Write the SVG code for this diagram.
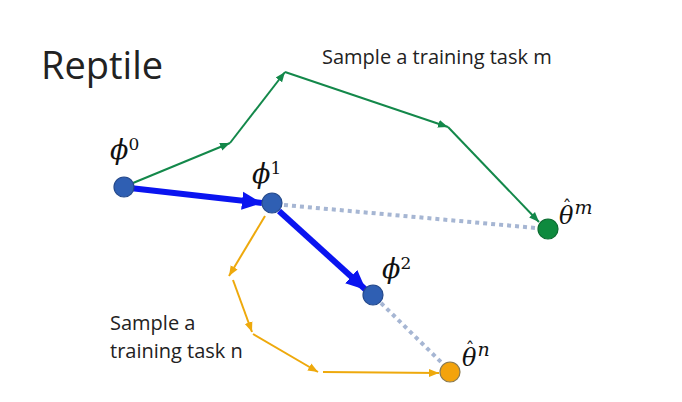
<svg xmlns="http://www.w3.org/2000/svg" width="682" height="402" viewBox="0 0 682 402">
<style>
.lbl{font-family:"Open Sans","Liberation Sans",sans-serif;fill:#222}
.math{font-family:"DejaVu Serif","Liberation Serif",serif;font-style:italic;fill:#111}
.g{stroke:#13884a;stroke-width:2;fill:none}
.o{stroke:#eea90c;stroke-width:2;fill:none}
.b{stroke:#0a14f0;stroke-width:6;fill:none}
.d{stroke:#a6b6d3;stroke-width:4;stroke-dasharray:4 4;fill:none}
.node{stroke-width:1.2}
</style>
<defs>
<marker id="ag" markerUnits="userSpaceOnUse" markerWidth="12" markerHeight="10" refX="10" refY="5" orient="auto"><path d="M0,1 L10,5 L0,9 Z" fill="#13884a"/></marker>
<marker id="ao" markerUnits="userSpaceOnUse" markerWidth="12" markerHeight="10" refX="10" refY="5" orient="auto"><path d="M0,1 L10,5 L0,9 Z" fill="#eea90c"/></marker>
<marker id="ab" markerUnits="userSpaceOnUse" markerWidth="22" markerHeight="20" refX="20" refY="10" orient="auto"><path d="M0,1 L20,10 L0,19 Z" fill="#0a14f0"/></marker>
</defs>
<rect width="682" height="402" fill="#fff"/>
<text class="lbl" x="41" y="79" font-size="38">Reptile</text>
<text class="lbl" x="322" y="64" font-size="20">Sample a training task m</text>
<text class="lbl" x="110" y="330" font-size="20">Sample a</text>
<text class="lbl" x="110" y="358" font-size="20">training task n</text>
<g id="connectors">
<line class="g" x1="133" y1="183" x2="230" y2="143" marker-end="url(#ag)"/>
<line class="g" x1="230" y1="143" x2="285" y2="72" marker-end="url(#ag)"/>
<line class="g" x1="285" y1="72" x2="448" y2="127" marker-end="url(#ag)"/>
<line class="g" x1="448" y1="127" x2="539" y2="222" marker-end="url(#ag)"/>
<line class="o" x1="265" y1="216" x2="229" y2="276" marker-end="url(#ao)"/>
<line class="o" x1="233" y1="280" x2="252" y2="332" marker-end="url(#ao)"/>
<line class="o" x1="253" y1="334" x2="318" y2="372" marker-end="url(#ao)"/>
<line class="o" x1="323" y1="372" x2="439" y2="373" marker-end="url(#ao)"/>
<line class="d" x1="284" y1="205" x2="536" y2="228"/>
<line class="d" x1="381" y1="303" x2="443" y2="364"/>
<line class="b" x1="130" y1="188" x2="262" y2="203" marker-end="url(#ab)"/>
<line class="b" x1="279" y1="211" x2="366" y2="290" marker-end="url(#ab)"/>
</g>
<g id="phi0"><circle class="node" cx="124" cy="187" r="10" fill="#2f5fb3" stroke="#24498c"/><text class="math" x="110" y="159" font-size="27">ϕ<tspan font-style="normal" font-size="17" dy="-9">0</tspan></text></g>
<g id="phi1"><circle class="node" cx="272" cy="203" r="10" fill="#2f5fb3" stroke="#24498c"/><text class="math" x="252" y="183" font-size="27">ϕ<tspan font-style="normal" font-size="17" dy="-9">1</tspan></text></g>
<g id="phi2"><circle class="node" cx="373" cy="295" r="10" fill="#2f5fb3" stroke="#24498c"/><text class="math" x="382" y="278" font-size="27">ϕ<tspan font-style="normal" font-size="17" dy="-9">2</tspan></text></g>
<g id="thetam"><circle class="node" cx="548" cy="229" r="10" fill="#0e8a3e" stroke="#0b6b30"/><text class="math" x="559" y="224" font-size="24">θ<tspan font-style="normal" font-size="18" dx="-11" dy="-10">ˆ</tspan><tspan font-size="19" dx="3">m</tspan></text></g>
<g id="thetan"><circle class="node" cx="450" cy="372" r="10" fill="#f3a30c" stroke="#8a7a50"/><text class="math" x="462" y="366" font-size="24">θ<tspan font-style="normal" font-size="18" dx="-11" dy="-10">ˆ</tspan><tspan font-size="19" dx="3">n</tspan></text></g>
</svg>
